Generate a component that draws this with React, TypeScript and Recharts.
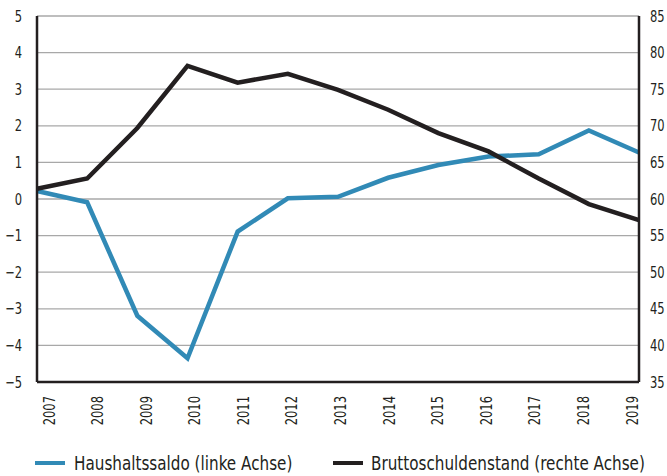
import { LineChart, Line, XAxis, YAxis, CartesianGrid, Legend } from "recharts";

const years = ["2007", "2008", "2009", "2010", "2011", "2012", "2013", "2014", "2015", "2016", "2017", "2018", "2019"];
// Haushaltssaldo, left axis
const saldo = [0.22, -0.09, -3.19, -4.35, -0.89, 0.02, 0.06, 0.58, 0.93, 1.16, 1.22, 1.87, 1.27];
// Bruttoschuldenstand, right axis
const schulden = [61.4, 62.8, 69.7, 78.2, 75.9, 77.1, 74.9, 72.2, 69.0, 66.5, 62.8, 59.3, 57.1];

const leftTicks = [-5, -4, -3, -2, -1, 0, 1, 2, 3, 4, 5];
const rightTicks = [35, 40, 45, 50, 55, 60, 65, 70, 75, 80, 85];

const BLUE = "#318ab6";
const BLACK = "#231f20";
const FONT = "'DejaVu Sans Condensed', 'DejaVu Sans', sans-serif";
const SQUEEZE = 0.8; // fake a condensed face

const data = years.map((year, i) => ({ year, saldo: saldo[i], schulden: schulden[i] }));

const fmtMinus = (v: number) => (v < 0 ? `\u2212${Math.abs(v)}` : `${v}`);

const YearTick = (props: any) => {
  const { x, y, payload, index } = props;
  // labels sit a little inside the ends in the original
  const shift = 12 - (index * 19) / (years.length - 1);
  return (
    <g transform={`translate(${x + shift}, ${y + 6}) rotate(-90) scale(${SQUEEZE}, 1)`}>
      <text x={0} y={0} textAnchor="end" dominantBaseline="central" fontSize={16} fontFamily={FONT} fill={BLACK}>
        {payload.value}
      </text>
    </g>
  );
};

const ValueTick = (props: any) => {
  const { x, y, payload, textAnchor } = props;
  return (
    <g transform={`translate(${x}, ${y}) scale(${SQUEEZE}, 1)`}>
      <text x={0} y={0} textAnchor={textAnchor} dominantBaseline="central" fontSize={16} fontFamily={FONT} fill={BLACK}>
        {fmtMinus(payload.value)}
      </text>
    </g>
  );
};

const narrow: React.CSSProperties = {
  position: "absolute",
  top: 0,
  whiteSpace: "nowrap",
  transform: "scaleX(0.845)",
  transformOrigin: "left center",
  lineHeight: "26px",
};

const LegendContent = () => (
  <div style={{ position: "relative", height: 26, fontFamily: FONT, fontSize: 20, color: BLACK }}>
    <span style={{ position: "absolute", left: 0, top: 11, width: 30, height: 4, background: BLUE }} />
    <span style={{ ...narrow, left: 39 }}>Haushaltssaldo (linke Achse)</span>
    <span style={{ position: "absolute", left: 298, top: 11, width: 30, height: 4, background: BLACK }} />
    <span style={{ ...narrow, left: 336 }}>Bruttoschuldenstand (rechte Achse)</span>
  </div>
);

const App = () => {
  return (
    <div style={{ width: 667, height: 476, background: "#fff" }}>
      <style>{`body{margin:0}`}</style>
      <LineChart width={667} height={476} data={data} margin={{ top: 16, right: 0, left: 0, bottom: 0 }}>
        <CartesianGrid yAxisId="left" vertical={false} stroke="#a8a8a8" strokeWidth={1.3} />
        <XAxis
          dataKey="year"
          interval={0}
          padding={{ left: 0, right: 0 }}
          tickLine={false}
          axisLine={{ stroke: BLACK, strokeWidth: 2.5 }}
          height={68}
          tick={<YearTick />}
        />
        <YAxis
          yAxisId="left"
          domain={[-5, 5]}
          ticks={leftTicks}
          width={37}
          tickLine={false}
          tickSize={6}
          tickMargin={9}
          axisLine={{ stroke: BLACK, strokeWidth: 2.5 }}
          tick={<ValueTick />}
        />
        <YAxis
          yAxisId="right"
          orientation="right"
          domain={[35, 85]}
          ticks={rightTicks}
          width={28}
          tickLine={false}
          tickSize={6}
          tickMargin={5}
          axisLine={{ stroke: BLACK, strokeWidth: 2.5 }}
          tick={<ValueTick />}
        />
        <Legend
          verticalAlign="bottom"
          align="left"
          content={<LegendContent />}
          wrapperStyle={{ left: 35, width: 630, height: 26 }}
        />
        <Line
          yAxisId="left"
          type="linear"
          dataKey="saldo"
          name="Haushaltssaldo (linke Achse)"
          stroke={BLUE}
          strokeWidth={4.5}
          dot={false}
          isAnimationActive={false}
        />
        <Line
          yAxisId="right"
          type="linear"
          dataKey="schulden"
          name="Bruttoschuldenstand (rechte Achse)"
          stroke={BLACK}
          strokeWidth={4.5}
          dot={false}
          isAnimationActive={false}
        />
      </LineChart>
    </div>
  );
};

export default App;
